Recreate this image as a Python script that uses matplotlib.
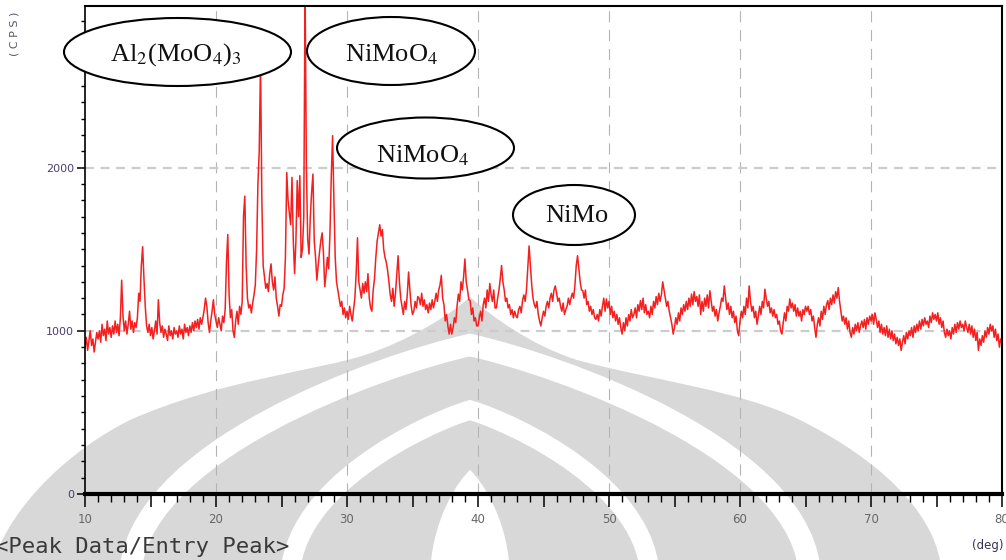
import numpy as np
import matplotlib
matplotlib.use('Agg')
import matplotlib.pyplot as plt
from matplotlib.patches import Ellipse, PathPatch
from matplotlib.path import Path
from matplotlib.ticker import MultipleLocator, FuncFormatter

# XRD pattern, CPS every 0.1 deg (2-theta)
cps_10_20 = [900, 960, 880, 940, 1000, 910, 950, 870, 930, 990,
             950, 1000, 930, 1040, 970, 1010, 940, 1060, 980, 1020,
             960, 1030, 980, 1060, 990, 1040, 970, 1080, 1310, 1090,
             1000, 1060, 980, 1040, 1120, 1010, 1060, 990, 1050, 1020,
             1080, 1230, 1180, 1400, 1515, 1320, 1150, 1030, 990, 1040,
             970, 1020, 950, 1000, 1060, 980, 1190, 1050, 990, 1030,
             960, 1010, 980, 940, 1030, 970, 1000, 950, 1020, 980,
             1000, 960, 1030, 980, 1010, 950, 1040, 990, 1020, 970,
             1030, 990, 1050, 1000, 1060, 1020, 1070, 1010, 1080, 1040,
             1080, 1130, 1200, 1150, 1050, 990, 1060, 1120, 1190, 1100]
cps_20_30 = [1060, 1020, 1080, 1040, 1000, 1090, 1050, 1130, 1420, 1590,
             1220, 1080, 1130, 1000, 960, 1060, 1120, 1040, 1150, 1100,
             1180, 1700, 1825, 1400, 1200, 1140, 1160, 1110, 1170, 1220,
             1280, 1500, 1900, 2100, 2650, 1800, 1400, 1330, 1260, 1290,
             1240, 1350, 1410, 1300, 1250, 1330, 1200, 1150, 1090, 1160,
             1150, 1220, 1260, 1450, 1970, 1800, 1720, 1650, 1940, 1550,
             1350, 1550, 1920, 1700, 1950, 1450, 1500, 1700, 3100, 2000,
             1560, 1470, 1700, 1850, 1960, 1550, 1450, 1310, 1400, 1480,
             1550, 1600, 1480, 1270, 1350, 1450, 1380, 1600, 1950, 2196,
             1800, 1450, 1300, 1250, 1200, 1150, 1180, 1100, 1140, 1080]
cps_30_40 = [1120, 1070, 1150, 1100, 1060, 1130, 1200, 1350, 1570, 1300,
             1250, 1200, 1290, 1230, 1300, 1240, 1350, 1200, 1140, 1120,
             1250, 1320, 1450, 1550, 1600, 1650, 1580, 1620, 1500, 1450,
             1420, 1370, 1300, 1220, 1180, 1260, 1150, 1230, 1350, 1460,
             1300, 1200, 1150, 1100, 1180, 1130, 1220, 1360, 1250, 1150,
             1100, 1120, 1180, 1140, 1210, 1200, 1160, 1230, 1150, 1190,
             1130, 1160, 1110, 1170, 1130, 1190, 1140, 1180, 1230, 1180,
             1250, 1280, 1340, 1200, 1160, 1060, 1100, 1030, 980, 1040,
             980, 1020, 1080, 1050, 1150, 1225, 1180, 1300, 1250, 1330,
             1440, 1300, 1250, 1190, 1185, 1100, 1140, 1060, 1080, 1030]
cps_40_50 = [1030, 1080, 1120, 1060, 1160, 1200, 1140, 1250, 1180, 1290,
             1220, 1180, 1250, 1140, 1140, 1200, 1250, 1320, 1400, 1300,
             1250, 1180, 1200, 1140, 1160, 1100, 1130, 1080, 1120, 1090,
             1080, 1130, 1150, 1110, 1185, 1220, 1180, 1250, 1380, 1520,
             1400, 1280, 1200, 1160, 1140, 1180, 1100, 1060, 1030, 1080,
             1120, 1090, 1150, 1180, 1140, 1200, 1230, 1180, 1250, 1275,
             1230, 1180, 1200, 1150, 1120, 1170, 1100, 1130, 1150, 1200,
             1160, 1200, 1230, 1200, 1280, 1400, 1460, 1380, 1300, 1250,
             1245, 1200, 1250, 1160, 1180, 1120, 1150, 1100, 1130, 1080,
             1070, 1100, 1060, 1130, 1090, 1150, 1200, 1120, 1195, 1140]
cps_50_60 = [1180, 1100, 1150, 1080, 1120, 1060, 1100, 1040, 1080, 1020,
             980, 1050, 1000, 1080, 1030, 1100, 1060, 1130, 1080, 1100,
             1140, 1080, 1160, 1120, 1185, 1130, 1200, 1110, 1160, 1100,
             1120, 1080, 1150, 1100, 1180, 1140, 1210, 1160, 1230, 1180,
             1220, 1300, 1250, 1200, 1150, 1180, 1120, 1080, 1040, 980,
             1020, 1080, 1040, 1110, 1060, 1140, 1100, 1160, 1120, 1180,
             1130, 1200, 1150, 1225, 1160, 1240, 1180, 1210, 1150, 1220,
             1100, 1180, 1120, 1200, 1150, 1220, 1140, 1245, 1180, 1120,
             1150, 1090, 1130, 1060, 1110, 1150, 1200, 1180, 1275, 1200,
             1130, 1170, 1100, 1150, 1080, 1120, 1050, 1090, 1000, 970]
cps_60_70 = [1060, 1120, 1080, 1150, 1100, 1200, 1140, 1275, 1180, 1120,
             1150, 1080, 1120, 1040, 1090, 1150, 1100, 1180, 1140, 1255,
             1200, 1150, 1180, 1110, 1140, 1090, 1130, 1080, 1100, 1040,
             1060, 1000, 980, 1050, 1110, 1060, 1150, 1120, 1195, 1140,
             1170, 1120, 1160, 1090, 1140, 1090, 1120, 1060, 1130, 1100,
             1150, 1120, 1150, 1100, 1130, 1060, 1090, 1020, 960, 1040,
             1080, 1030, 1120, 1070, 1150, 1100, 1160, 1185, 1130, 1200,
             1160, 1220, 1170, 1240, 1200, 1265, 1180, 1120, 1060, 1090,
             1040, 1080, 1010, 1060, 990, 960, 1020, 980, 1040, 1000,
             1050, 990, 1030, 1060, 1020, 1070, 1010, 1080, 1040, 1090]
cps_70_80 = [1060, 1100, 1040, 1110, 1070, 1020, 1060, 990, 1040, 980,
             1020, 970, 1030, 960, 1010, 950, 1000, 940, 980, 920,
             960, 910, 950, 880, 930, 970, 920, 990, 950, 1000,
             970, 1020, 960, 1030, 990, 1040, 1000, 1060, 1010, 1070,
             1030, 1080, 1040, 1060, 1020, 1090, 1050, 1110, 1070, 1100,
             1060, 1110, 1040, 1080, 1020, 1060, 990, 960, 1010, 970,
             1000, 950, 1020, 980, 1040, 990, 1050, 1010, 1060, 1020,
             1040, 1000, 1060, 1020, 990, 1040, 980, 1030, 960, 1010,
             940, 990, 880, 950, 910, 970, 930, 1000, 960, 1020,
             980, 1040, 1000, 1030, 960, 1010, 940, 980, 900, 950,
             940]

cps = np.array(cps_10_20 + cps_20_30 + cps_30_40 + cps_40_50
               + cps_50_60 + cps_60_70 + cps_70_80, dtype=float)
two_theta = 10 + 0.1 * np.arange(len(cps))

labels = [r'Al$_2$(MoO$_4$)$_3$', r'NiMoO$_4$', r'NiMoO$_4$', 'NiMo']

plt.rcParams['mathtext.fontset'] = 'stix'
narrow = ['Liberation Sans Narrow', 'DejaVu Sans']

fig = plt.figure(figsize=(10.06, 5.6), dpi=100)
fig.patch.set_facecolor('white')

# watermark in the background (pixel coords)
bg = fig.add_axes([0, 0, 1, 1], zorder=0)
bg.set_xlim(0, 1006)
bg.set_ylim(560, 0)
bg.axis('off')
C = Path.CURVE4
outer = Path([(0, 560), (0, 545),
              (20, 500), (70, 450), (130, 420),
              (220, 380), (320, 370), (365, 355),
              (410, 340), (450, 315), (470, 297),
              (490, 315), (530, 345), (577, 360),
              (650, 380), (740, 390), (800, 420),
              (880, 460), (930, 510), (940, 560),
              (0, 560)],
             [Path.MOVETO, Path.LINETO] + [C] * 18 + [Path.CLOSEPOLY])
bg.add_patch(PathPatch(outer, fc='#d8d8d8', ec='none'))


def onion(cx, top, hw, bottom):
    h = bottom - top
    return Path([(cx - hw, bottom), (cx - hw, top + 0.45 * h),
                 (cx - 0.25 * hw, top + 0.08 * h), (cx, top),
                 (cx + 0.25 * hw, top + 0.08 * h), (cx + hw, top + 0.45 * h),
                 (cx + hw, bottom)],
                [Path.MOVETO] + [C] * 6)


bg.add_patch(PathPatch(onion(470, 345, 340, 580), fc='none', ec='white', lw=16))
bg.add_patch(PathPatch(onion(470, 410, 180, 580), fc='none', ec='white', lw=14))
bg.add_patch(PathPatch(onion(470, 470, 40, 580), fc='white', ec='none'))

# main plot
ax = fig.add_axes([85 / 1006, 66 / 560, 917 / 1006, 488 / 560], zorder=1)
ax.set_facecolor('none')
for v in range(20, 80, 10):
    ax.axvline(v, color='#b4b4b4', lw=0.8, ls=(0, (10, 7)), zorder=0.5)
for h in (1000, 2000):
    ax.axhline(h, color='#cccccc', lw=1.6, ls=(0, (4, 3)), zorder=0.5)
ax.plot(two_theta, cps, color='#f42020', lw=1.1, zorder=2)
ax.set_xlim(10, 80)
ax.set_ylim(0, 2990)

ax.spines['top'].set_linewidth(1.5)
ax.spines['right'].set_linewidth(1.5)
ax.spines['left'].set_linewidth(1.2)
ax.spines['bottom'].set_linewidth(3)

ax.xaxis.set_major_locator(MultipleLocator(5))
ax.xaxis.set_minor_locator(MultipleLocator(1))
ax.xaxis.set_major_formatter(FuncFormatter(lambda v, p: f'{int(v)}' if v % 10 == 0 else ''))
ax.yaxis.set_major_locator(MultipleLocator(1000))
ax.yaxis.set_minor_locator(MultipleLocator(100))
ax.tick_params(axis='x', which='major', length=9, width=1.1, pad=5,
               labelsize=8.5, labelcolor='#666666')
ax.tick_params(axis='x', which='minor', length=5.5, width=1.0)
ax.tick_params(axis='y', which='major', length=6, width=1.1, pad=2,
               labelsize=8, labelcolor='#4b3f6b')
ax.tick_params(axis='y', which='minor', length=3, width=1.0)
for t in ax.get_xticklabels() + ax.get_yticklabels():
    t.set_family(narrow)

# overlay: ellipse labels and loose texts
ov = fig.add_axes([0, 0, 1, 1], zorder=3)
ov.set_xlim(0, 1006)
ov.set_ylim(560, 0)
ov.axis('off')
ov.set_facecolor('none')

ell_xy = [(177.5, 52), (391, 51), (425.5, 148), (574, 215)]
ell_wh = [(227, 68), (168, 68), (177, 61), (122, 60)]
txt_xy = [(176, 61), (392, 61), (423, 162), (577, 222)]
for lab, (ex, ey), (ew, eh), (tx, ty) in zip(labels, ell_xy, ell_wh, txt_xy):
    ov.add_patch(Ellipse((ex, ey), ew, eh, fc='white', ec='black', lw=1.5))
    ov.text(tx, ty, lab, ha='center', va='baseline', fontsize=19,
            family='Liberation Serif', color='#111111')

ov.text(-5, 553, '<Peak Data/Entry Peak>', family='DejaVu Sans Mono',
        fontsize=16, color='#3a3a3a', va='baseline', ha='left')
ov.text(1004, 546, '(deg)', family=narrow, fontsize=8.5, color='#333355',
        ha='right', va='center')
ov.text(15, 34, '( C P S )', family=narrow, fontsize=8, color='#555566',
        rotation=90, ha='center', va='center')

fig.savefig('out.png', dpi=100)
